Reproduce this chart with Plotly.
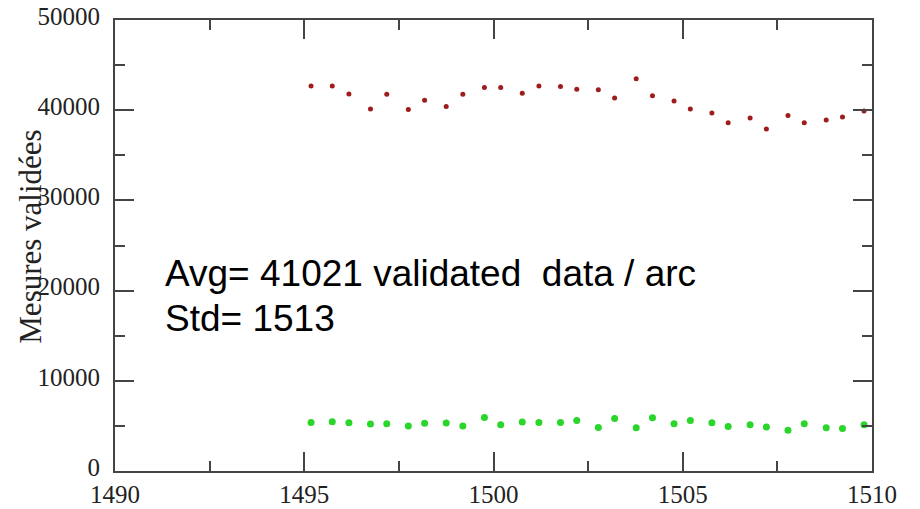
import plotly.graph_objects as go

# Arc times (days)
x_arc = [1495.18, 1495.74, 1496.18, 1496.75, 1497.18, 1497.75, 1498.18, 1498.75,
         1499.19, 1499.76, 1500.19, 1500.76, 1501.20, 1501.77, 1502.20, 1502.77,
         1503.20, 1503.77, 1504.20, 1504.77, 1505.20, 1505.77, 1506.20, 1506.78,
         1507.21, 1507.78, 1508.21, 1508.79, 1509.22, 1509.79]

# validated measurements per arc (red)
validated = [42690, 42690, 41800, 40130, 41760, 40090, 41090, 40420,
             41760, 42530, 42530, 41870, 42690, 42640, 42310, 42280,
             41360, 43500, 41610, 41020, 40130, 39690, 38610, 39130,
             37910, 39420, 38610, 38910, 39240, 39910]

# second series (green)
second = [5390, 5470, 5360, 5200, 5240, 4980, 5280, 5310,
          4980, 5940, 5130, 5420, 5390, 5390, 5610, 4830,
          5830, 4800, 5910, 5240, 5610, 5360, 4940, 5130,
          4870, 4530, 5240, 4800, 4720, 5130]

x_ticks = [1490, 1495, 1500, 1505, 1510]
x_labels = ["1490", "1495", "1500", "1505", "1510"]
y_ticks = [0, 10000, 20000, 30000, 40000, 50000]
y_labels = ["0", "10000", "20000", "30000", "40000", "50000"]

y_title = "Mesures validées"
note_lines = ["Avg= 41021 validated  data / arc", "Std= 1513"]

fig = go.Figure()
fig.add_trace(go.Scatter(x=x_arc, y=second, mode="markers",
                         marker=dict(color="#2ad62a", size=7, line=dict(width=0)),
                         showlegend=False))
fig.add_trace(go.Scatter(x=x_arc, y=validated, mode="markers",
                         marker=dict(color="#9e1c1c", size=5, line=dict(width=0)),
                         showlegend=False))

axis_common = dict(showline=True, linecolor="#444", linewidth=2, mirror="allticks",
                   ticks="inside", ticklen=19, tickwidth=1.5, tickcolor="#444",
                   showgrid=False, zeroline=False, automargin=False,
                   tickfont=dict(family="Liberation Serif", size=25, color="#222"))

fig.update_xaxes(range=[1490, 1510], tickvals=x_ticks, ticktext=x_labels,
                 minor=dict(ticks="inside", ticklen=10, tickwidth=1.5, tickcolor="#444", dtick=2.5, tick0=1490, showgrid=False),
                 **axis_common)
fig.update_yaxes(range=[0, 50000], tickvals=y_ticks, ticktext=y_labels, ticklabelstandoff=8,
                 ticklabelshift=-4,
                 minor=dict(ticks="inside", ticklen=10, tickwidth=1.5, tickcolor="#444", dtick=5000, tick0=0, showgrid=False),
                 **axis_common)

fig.add_annotation(text=y_title, textangle=-90, xref="paper", yref="paper",
                   x=-0.112, y=0.52, xanchor="center", yanchor="middle", showarrow=False,
                   font=dict(family="Liberation Serif", size=31, color="#222"))

for txt, yv in zip(note_lines, [21900, 16900]):
    fig.add_annotation(text=txt, x=1491.27, y=yv, xref="x", yref="y",
                       xanchor="left", yanchor="middle", showarrow=False,
                       font=dict(family="Liberation Sans", size=37, color="#000"))

fig.update_layout(width=920, height=509, margin=dict(l=115, r=48, t=20, b=38),
                  plot_bgcolor="white", paper_bgcolor="white")

fig.write_html("out.html")
